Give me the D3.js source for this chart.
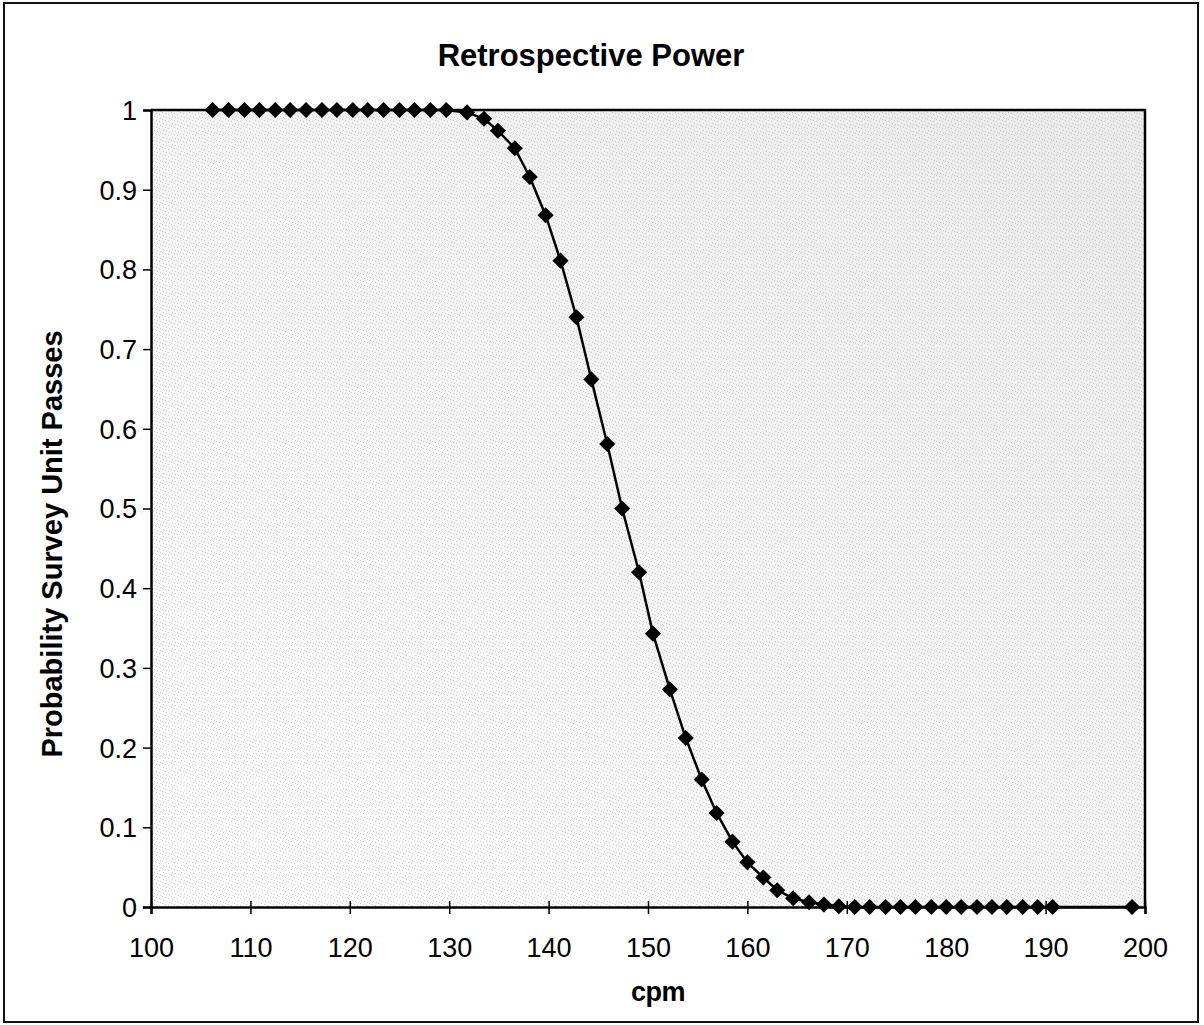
<!DOCTYPE html>
<html>
<head>
<meta charset="utf-8">
<script src="https://cdn.jsdelivr.net/npm/d3@7"></script>
<style>
  html, body { margin: 0; padding: 0; background: #fff; }
  svg { display: block; }
</style>
</head>
<body>
<svg id="chart" width="1204" height="1025"></svg>
<script>
// ---- data ----
const cpm = [
  106.2, 107.8, 109.4, 110.9, 112.5, 114.0, 115.6, 117.2, 118.7, 120.3,
  121.8, 123.4, 125.0, 126.5, 128.1, 129.7,
  131.8, 133.5, 134.9, 136.6, 138.1, 139.7, 141.2, 142.8, 144.3, 145.9,
  147.4, 149.1, 150.5, 152.2, 153.8, 155.4, 156.9, 158.5, 160.0, 161.6,
  163.0, 164.6, 166.2, 167.7, 169.2, 170.8, 172.3, 173.9, 175.4, 176.9,
  178.5, 180.0, 181.5, 183.1, 184.6, 186.1, 187.7, 189.2, 190.7, 198.7
];
const probPass = [
  1, 1, 1, 1, 1, 1, 1, 1, 1, 1,
  1, 1, 1, 1, 1, 1,
  0.997, 0.989, 0.974, 0.952, 0.916, 0.868, 0.811, 0.740, 0.662, 0.581,
  0.500, 0.420, 0.343, 0.273, 0.212, 0.160, 0.118, 0.082, 0.056, 0.037,
  0.021, 0.011, 0.006, 0.003, 0.001, 0, 0, 0, 0, 0,
  0, 0, 0, 0, 0, 0, 0, 0, 0, 0
];
const xTicks = [100, 110, 120, 130, 140, 150, 160, 170, 180, 190, 200];
const yTicks = [0, 0.1, 0.2, 0.3, 0.4, 0.5, 0.6, 0.7, 0.8, 0.9, 1];
const titleText = "Retrospective Power";
const xTitle = "cpm";
const yTitle = "Probability Survey Unit Passes";

// ---- drawing ----
const svg = d3.select("#chart");
const font = "'Liberation Sans', Arial, Helvetica, sans-serif";

const x = d3.scaleLinear().domain([100, 200]).range([151, 1145]);
const y = d3.scaleLinear().domain([0, 1]).range([907, 110]);

// outer frame
svg.append("rect")
  .attr("x", 4).attr("y", 3).attr("width", 1194).attr("height", 1019)
  .attr("fill", "#fff").attr("stroke", "#111").attr("stroke-width", 2);

// plot background: light grey with stipple
const defs = svg.append("defs");
const grad = defs.append("linearGradient").attr("id", "bg")
  .attr("x1", "0").attr("y1", "1").attr("x2", "1").attr("y2", "0");
grad.append("stop").attr("offset", "0").attr("stop-color", "#fcfcfc");
grad.append("stop").attr("offset", "0.55").attr("stop-color", "#f2f2f2");
grad.append("stop").attr("offset", "1").attr("stop-color", "#e9e9e9");

const pat = defs.append("pattern").attr("id", "stip")
  .attr("patternUnits", "userSpaceOnUse").attr("width", 9).attr("height", 7);
[[0,0],[3,1],[6,2],[1,4],[4,5],[7,6]].forEach(([px, py]) => {
  pat.append("rect").attr("x", px).attr("y", py).attr("width", 1).attr("height", 1)
    .attr("fill", "#a8a8a8");
});

const [x0, x1] = x.range();
const [yb, yt] = y.range();
svg.append("rect").attr("x", x0).attr("y", yt).attr("width", x1 - x0).attr("height", yb - yt)
  .attr("fill", "url(#bg)");
svg.append("rect").attr("x", x0).attr("y", yt).attr("width", x1 - x0).attr("height", yb - yt)
  .attr("fill", "url(#stip)").attr("opacity", 0.45);

// plot border (top & right)
svg.append("path")
  .attr("d", `M${x0},${yt}H${x1}V${yb}`)
  .attr("fill", "none").attr("stroke", "#000").attr("stroke-width", 2.5);

// x axis
const gx = svg.append("g").attr("transform", `translate(0,${yb})`)
  .call(d3.axisBottom(x).tickValues(xTicks).tickFormat(d3.format("d")).tickSize(7).tickPadding(0));
gx.select(".domain").attr("stroke", "#000").attr("stroke-width", 2.5);
gx.selectAll(".tick line").attr("y1", -6).attr("stroke", "#000").attr("stroke-width", 1.5);
gx.selectAll(".tick text")
  .attr("y", 31).attr("dy", "0.71em")
  .attr("font-family", font).attr("font-size", 27).attr("fill", "#000");

// y axis
const gy = svg.append("g").attr("transform", `translate(${x0},0)`)
  .call(d3.axisLeft(y).tickValues(yTicks).tickFormat(d => d3.format("")(d)).tickSize(8).tickPadding(0));
gy.select(".domain").attr("stroke", "#000").attr("stroke-width", 2.5);
gy.selectAll(".tick line").attr("stroke", "#000").attr("stroke-width", 1.5);
gy.selectAll(".tick text")
  .attr("x", -14).attr("dy", "0.35em")
  .attr("font-family", font).attr("font-size", 27).attr("fill", "#000");

// line
const line = d3.line().x((d, i) => x(cpm[i])).y(d => y(d));
svg.append("path").datum(probPass)
  .attr("d", line)
  .attr("fill", "none").attr("stroke", "#000").attr("stroke-width", 2.5);

// diamond markers
const sym = d3.symbol().type(d3.symbolSquare).size(130);
svg.append("g").selectAll("path").data(probPass).join("path")
  .attr("d", sym)
  .attr("transform", (d, i) => `translate(${x(cpm[i])},${y(d)}) rotate(45)`)
  .attr("fill", "#000");

// titles
svg.append("text").attr("x", 591).attr("y", 66)
  .attr("text-anchor", "middle")
  .attr("font-family", font).attr("font-weight", "bold").attr("font-size", 31)
  .text(titleText);

svg.append("text").attr("x", 658).attr("y", 1001)
  .attr("text-anchor", "middle")
  .attr("font-family", font).attr("font-weight", "bold").attr("font-size", 27)
  .attr("letter-spacing", -0.5)
  .text(xTitle);

svg.append("text").attr("transform", "translate(62,544) rotate(-90)")
  .attr("text-anchor", "middle")
  .attr("font-family", font).attr("font-weight", "bold").attr("font-size", 29)
  .text(yTitle);
</script>
</body>
</html>
